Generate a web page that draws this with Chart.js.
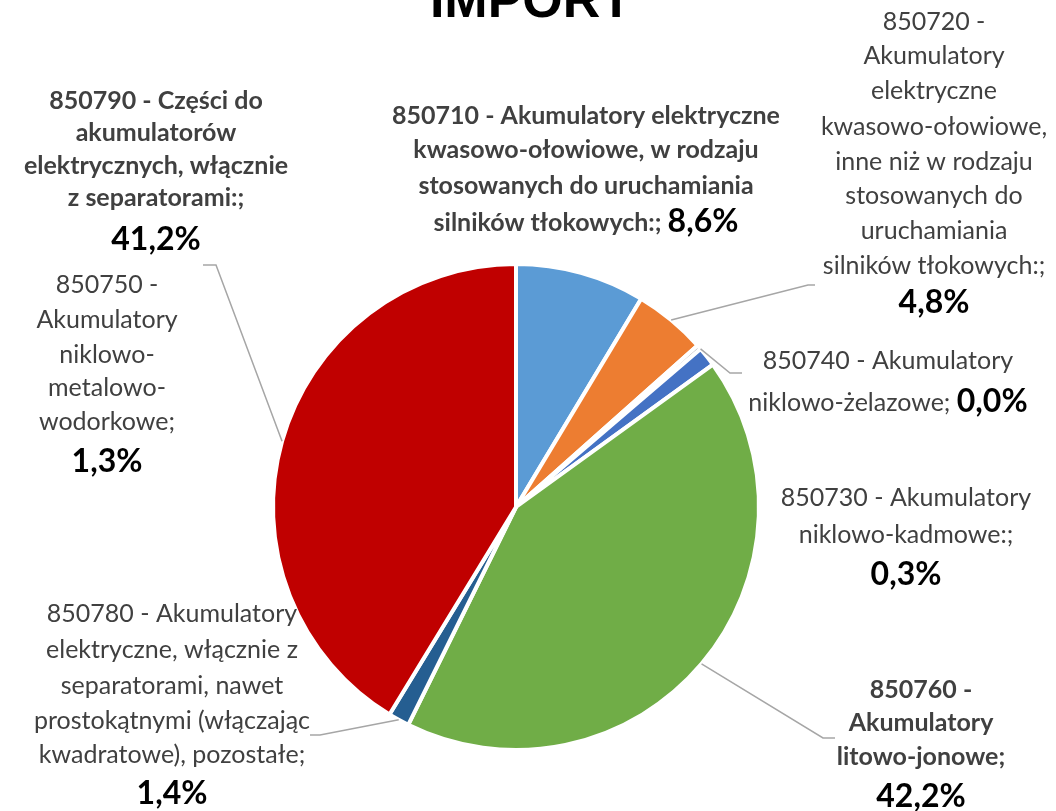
<!DOCTYPE html>
<html>
<head>
<meta charset="utf-8">
<script src="https://cdn.jsdelivr.net/npm/chart.js@4"></script>
<style>
    html, body { margin: 0; padding: 0; background: #ffffff; }
    #wrap { position: relative; width: 1056px; height: 811px; }
</style>
</head>
<body>
<div id="wrap"><canvas id="pieChart"></canvas></div>
<script>
// DATA
const chartTitle = "IMPORT";

const categories = [
    "850710 - Akumulatory elektryczne kwasowo-ołowiowe, w rodzaju stosowanych do uruchamiania silników tłokowych:",
    "850720 - Akumulatory elektryczne kwasowo-ołowiowe, inne niż w rodzaju stosowanych do uruchamiania silników tłokowych:",
    "850730 - Akumulatory niklowo-kadmowe:",
    "850740 - Akumulatory niklowo-żelazowe",
    "850750 - Akumulatory niklowo-metalowo-wodorkowe",
    "850760 - Akumulatory litowo-jonowe",
    "850780 - Akumulatory elektryczne, włącznie z separatorami, nawet prostokątnymi (włączając kwadratowe), pozostałe",
    "850790 - Części do akumulatorów elektrycznych, włącznie z separatorami:"
];

const shares = [8.6, 4.8, 0.3, 0.0, 1.3, 42.2, 1.4, 41.2];

// wrapped label text as it appears next to the pie
const labelLines = [
    ["850710 - Akumulatory elektryczne", "kwasowo-ołowiowe, w rodzaju", "stosowanych do uruchamiania", "silników tłokowych:;"],
    ["850720 -", "Akumulatory", "elektryczne", "kwasowo-ołowiowe,", "inne niż w rodzaju", "stosowanych do", "uruchamiania", "silników tłokowych:;"],
    ["850730 - Akumulatory", "niklowo-kadmowe:;"],
    ["850740 - Akumulatory", "niklowo-żelazowe;"],
    ["850750 -", "Akumulatory", "niklowo-", "metalowo-", "wodorkowe;"],
    ["850760 -", "Akumulatory", "litowo-jonowe;"],
    ["850780 - Akumulatory", "elektryczne, włącznie z", "separatorami, nawet", "prostokątnymi (włączając", "kwadratowe), pozostałe;"],
    ["850790 - Części do", "akumulatorów", "elektrycznych, włącznie", "z separatorami:;"]
];

const sliceColors = ["#5B9BD5", "#ED7D31", "#A5A5A5", "#FFC000", "#4472C4", "#70AD47", "#255E91", "#C00000"];

// LABEL PLACEMENT (centre x, line centres y)
const labelLayout = [
    { x: 586, ys: [116, 150, 186, 223], bold: true, inline: true },
    { x: 934, ys: [22, 56, 91, 127, 162, 196, 231, 266, 303], bold: false },
    { x: 906, ys: [498, 535, 575], bold: false },
    { x: 888, ys: [361, 403], bold: false, inline: true },
    { x: 107, ys: [285, 320, 355, 388, 422, 462], bold: false },
    { x: 921, ys: [690, 723, 757, 797], bold: true },
    { x: 172, ys: [614, 650, 686, 721, 755, 794], bold: false },
    { x: 156, ys: [101, 133, 166, 198, 240], bold: true }
];

// leader line bends (label side), null = no leader
const leaderBends = [
    null,
    [[808, 285], [815, 285]],
    null,
    [[730, 373], [742, 373]],
    null,
    [[823, 738], [835, 738]],
    [[320, 735], [310, 735]],
    [[216, 265], [203, 265]]
];

const FONT = "Lato, 'Open Sans', sans-serif";
const TEXT_SIZE = 25;
const PCT_SIZE = 32;

function pctText(v) {
    return v.toFixed(1).replace(".", ",") + "%";
}

// CUSTOM LABEL PLUGIN
const pieLabelsPlugin = {

    id: "pieLabelsPlugin",

    afterDraw(chart) {

        const ctx = chart.ctx;
        const arcs = chart.getDatasetMeta(0).data;

        ctx.save();

        // title, partly cut off at the top
        ctx.font = "bold 52px 'Liberation Sans', Arial, sans-serif";
        ctx.fillStyle = "#000000";
        ctx.textAlign = "center";
        ctx.textBaseline = "alphabetic";
        ctx.fillText(chartTitle, 531, 17);

        // leader lines
        ctx.strokeStyle = "#A6A6A6";
        ctx.lineWidth = 1.5;

        leaderBends.forEach((bend, i) => {
            if (!bend) return;
            const arc = arcs[i];
            const mid = (arc.startAngle + arc.endAngle) / 2;
            const sx = arc.x + Math.cos(mid) * arc.outerRadius;
            const sy = arc.y + Math.sin(mid) * arc.outerRadius;
            ctx.beginPath();
            ctx.moveTo(sx, sy);
            bend.forEach(p => ctx.lineTo(p[0], p[1]));
            ctx.stroke();
        });

        // labels
        ctx.textBaseline = "middle";

        labelLayout.forEach((lay, i) => {

            const lines = labelLines[i];
            const pct = pctText(shares[i]);
            const textFont = (lay.bold ? "bold " : "") + TEXT_SIZE + "px " + FONT;
            const pctFont = "bold " + PCT_SIZE + "px " + FONT;

            lines.forEach((line, j) => {

                const y = lay.ys[j];
                const last = j === lines.length - 1;

                if (last && lay.inline) {
                    ctx.font = textFont;
                    const w1 = ctx.measureText(line + " ").width;
                    ctx.font = pctFont;
                    const w2 = ctx.measureText(pct).width;
                    let x = lay.x - (w1 + w2) / 2;
                    ctx.textAlign = "left";
                    ctx.font = textFont;
                    ctx.fillStyle = "#404040";
                    ctx.fillText(line + " ", x, y);
                    ctx.font = pctFont;
                    ctx.fillStyle = "#000000";
                    ctx.fillText(pct, x + w1, y - 1);
                } else {
                    ctx.textAlign = "center";
                    ctx.font = textFont;
                    ctx.fillStyle = "#404040";
                    ctx.fillText(line, lay.x, y);
                }
            });

            if (!lay.inline) {
                ctx.textAlign = "center";
                ctx.font = pctFont;
                ctx.fillStyle = "#000000";
                ctx.fillText(pct, lay.x, lay.ys[lines.length]);
            }
        });

        ctx.restore();
    }
};

// CREATE CHART
const chart = new Chart(document.getElementById("pieChart"), {

    type: "pie",

    data: {
        labels: categories,

        datasets: [{
            data: shares,

            backgroundColor: sliceColors,

            borderColor: "#ffffff",

            borderWidth: 4
        }]
    },

    options: {

        responsive: true,

        maintainAspectRatio: false,

        animation: false,

        layout: {
            padding: { left: 271, top: 262, right: 295, bottom: 59 }
        },

        plugins: {

            legend: {
                display: false
            },

            tooltip: {
                enabled: false
            }
        }
    },

    plugins: [pieLabelsPlugin]
});
</script>
</body>
</html>
